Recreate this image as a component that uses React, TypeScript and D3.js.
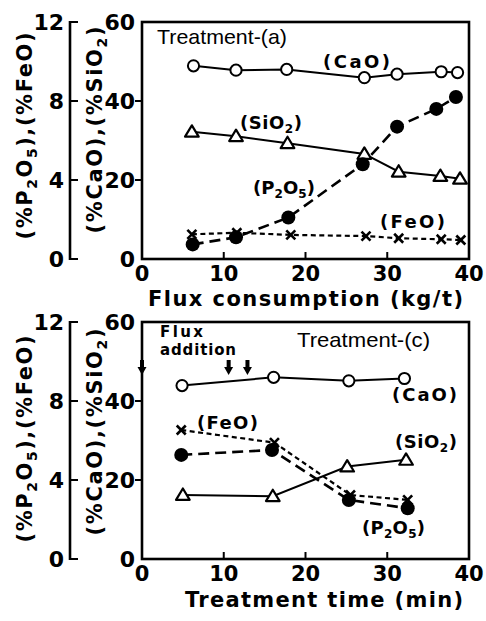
import React from 'react';
import * as d3 from 'd3';

// ---------- Data (top panel: Treatment-(a), x = flux consumption kg/t) ----------
const xTicks = [0, 10, 20, 30, 40];
const rightTicks = [0, 20, 40, 60];
const leftTicks = [0, 4, 8, 12];

const aCaOX = [6.3, 11.5, 17.7, 27.2, 31.2, 36.6, 38.6];
const aCaO = [48.9, 47.8, 48.0, 45.9, 46.8, 47.4, 47.2];
const aSiO2X = [6.1, 11.5, 17.8, 27.2, 31.4, 36.5, 38.9];
const aSiO2 = [32.2, 31.1, 29.3, 26.6, 22.1, 21.0, 20.3];
const aP2O5X = [6.2, 11.5, 17.9, 27.0, 31.2, 36.0, 38.4];
const aP2O5 = [0.74, 1.1, 2.1, 4.8, 6.7, 7.6, 8.2];
const aFeOX = [6.1, 11.6, 18.2, 27.4, 31.4, 36.6, 39.0];
const aFeO = [1.25, 1.33, 1.22, 1.16, 1.05, 1.0, 0.96];

// ---------- Data (bottom panel: Treatment-(c), x = treatment time min) ----------
const cCaOX = [4.9, 16.1, 25.3, 32.1];
const cCaO = [43.9, 46.0, 45.1, 45.7];
const cSiO2X = [5.0, 16.0, 25.1, 32.3];
const cSiO2 = [16.2, 15.9, 23.4, 25.1];
const cP2O5X = [4.8, 15.9, 25.3, 32.5];
const cP2O5 = [5.27, 5.52, 2.99, 2.57];
const cFeOX = [4.8, 16.2, 25.5, 32.5];
const cFeO = [6.53, 5.89, 3.24, 2.99];
const fluxAdditionTimes = [0, 10.6, 12.9];

const FONT = "'DejaVu Sans', sans-serif";
const ARIAL = "'Liberation Sans', Arial, sans-serif";

const x = d3.scaleLinear().domain([0, 40]).range([142, 469]);
const yR = d3.scaleLinear().domain([0, 60]).range([259, 22]);
const yL = d3.scaleLinear().domain([0, 12]).range([259, 22]);

function chem(str: string, sub: number, shift: number) {
  // digits that follow a letter become subscripts
  const parts: { t: string; s: boolean }[] = [];
  for (let i = 0; i < str.length; i++) {
    const ch = str[i];
    const isSub = /[0-9]/.test(ch) && i > 0 && /[A-Za-z]/.test(str[i - 1]);
    const last = parts[parts.length - 1];
    if (last && last.s === isSub) last.t += ch;
    else parts.push({ t: ch, s: isSub });
  }
  const out: React.ReactNode[] = [];
  let prevSub = false;
  parts.forEach((p, i) => {
    if (p.s) {
      out.push(
        <tspan key={i} dy={shift} fontSize={sub}>
          {p.t}
        </tspan>
      );
      prevSub = true;
    } else {
      out.push(
        <tspan key={i} dy={prevSub ? -shift : 0}>
          {p.t}
        </tspan>
      );
      prevSub = false;
    }
  });
  return out;
}

type Series = {
  xs: number[];
  ys: number[];
  scale: d3.ScaleLinear<number, number>;
  dash?: string;
  width: number;
  marker: 'open' | 'filled' | 'tri' | 'cross';
};

function Marker({ kind, cx, cy }: { kind: string; cx: number; cy: number }) {
  if (kind === 'open')
    return <circle cx={cx} cy={cy} r={5.6} fill="#fff" stroke="#000" strokeWidth={2} />;
  if (kind === 'filled') return <circle cx={cx} cy={cy} r={7} fill="#000" />;
  if (kind === 'tri') {
    const s = 6.5;
    const p = `${cx},${cy - s} ${cx + s * 1.05},${cy + s * 0.75} ${cx - s * 1.05},${cy + s * 0.75}`;
    return <polygon points={p} fill="#fff" stroke="#000" strokeWidth={2.2} strokeLinejoin="round" />;
  }
  const c = 4.5;
  return (
    <g stroke="#000" strokeWidth={2.6}>
      <line x1={cx - c} y1={cy - c} x2={cx + c} y2={cy + c} />
      <line x1={cx - c} y1={cy + c} x2={cx + c} y2={cy - c} />
    </g>
  );
}

function Panel({
  offsetY,
  series,
  xTitle,
  xTitleLen,
  xTitleX,
  xTitleY,
  children,
  leftLabelY,
  rightLabelY,
}: {
  offsetY: number;
  series: Series[];
  xTitle: string;
  xTitleLen: number;
  xTitleX: number;
  xTitleY: number;
  children?: React.ReactNode;
  leftLabelY: number;
  rightLabelY: number;
}) {
  const [x0, x1] = x.range();
  const line = d3.line<[number, number]>();
  return (
    <g transform={`translate(0,${offsetY})`}>
      {/* outer left axis (0-12) */}
      <line x1={70} x2={70} y1={yL(0) + 1} y2={yL(12) - 1} stroke="#000" strokeWidth={2.6} />
      {leftTicks.map((t) => (
        <g key={'l' + t}>
          <line x1={69} x2={78} y1={yL(t)} y2={yL(t)} stroke="#000" strokeWidth={2} />
          <text
            x={64}
            y={yL(t) + 8}
            textAnchor="end"
            fontFamily={FONT}
            fontWeight="bold"
            fontSize={22}
          >
            {t}
          </text>
        </g>
      ))}
      {/* plot box */}
      <rect
        x={x0}
        y={yR(60)}
        width={x1 - x0}
        height={yR(0) - yR(60)}
        fill="none"
        stroke="#000"
        strokeWidth={2.6}
      />
      {rightTicks.map((t) => (
        <g key={'r' + t}>
          {t > 0 && t < 60 && (
            <line x1={x0 - 7} x2={x0} y1={yR(t)} y2={yR(t)} stroke="#000" strokeWidth={2} />
          )}
          <text
            x={x0 - 7}
            y={yR(t) + 8}
            textAnchor="end"
            fontFamily={FONT}
            fontWeight="bold"
            fontSize={22}
          >
            {t}
          </text>
        </g>
      ))}
      {xTicks.map((t) => (
        <g key={'x' + t}>
          {t > 0 && t < 40 && (
            <line x1={x(t)} x2={x(t)} y1={yR(0)} y2={yR(0) - 7} stroke="#000" strokeWidth={2} />
          )}
          <text
            x={x(t)}
            y={281}
            textAnchor="middle"
            fontFamily={FONT}
            fontWeight="bold"
            fontSize={21}
          >
            {t}
          </text>
        </g>
      ))}
      {/* axis titles */}
      <text
        x={xTitleX}
        y={xTitleY}
        textAnchor="middle"
        fontFamily={FONT}
        fontWeight="bold"
        fontSize={21}
        textLength={xTitleLen}
        lengthAdjust="spacing"
      >
        {xTitle}
      </text>
      <text
        transform={`translate(32,${leftLabelY}) rotate(-90)`}
        textAnchor="middle"
        fontFamily={FONT}
        fontWeight="bold"
        fontSize={21}
        textLength={207}
        lengthAdjust="spacing"
      >
        {chem('(%P2O5),(%FeO)', 14, 5)}
      </text>
      <text
        transform={`translate(102,${rightLabelY}) rotate(-90)`}
        textAnchor="middle"
        fontFamily={FONT}
        fontWeight="bold"
        fontSize={21}
        textLength={207}
        lengthAdjust="spacing"
      >
        {chem('(%CaO),(%SiO2)', 14, 5)}
      </text>
      {/* series lines */}
      {series.map((s, i) => (
        <path
          key={'p' + i}
          d={line(s.xs.map((v, j) => [x(v), s.scale(s.ys[j])]))!}
          fill="none"
          stroke="#000"
          strokeWidth={s.width}
          strokeDasharray={s.dash}
        />
      ))}
      {series.map((s, i) =>
        s.xs.map((v, j) => (
          <Marker key={'m' + i + '-' + j} kind={s.marker} cx={x(v)} cy={s.scale(s.ys[j])} />
        ))
      )}
      {children}
    </g>
  );
}

function Label({
  x: lx,
  y,
  text,
  len,
  size = 18,
}: {
  x: number;
  y: number;
  text: string;
  len: number;
  size?: number;
}) {
  return (
    <text
      x={lx}
      y={y}
      fontFamily={FONT}
      fontWeight="bold"
      fontSize={size}
      textLength={len}
      lengthAdjust="spacing"
    >
      {chem(text, 12, 4)}
    </text>
  );
}

function Arrow({ cx, top }: { cx: number; top: number }) {
  return (
    <g fill="#000">
      <rect x={cx - 2} y={top} width={4} height={8} />
      <polygon points={`${cx - 4.5},${top + 7} ${cx + 4.5},${top + 7} ${cx},${top + 15}`} />
    </g>
  );
}

export default function App() {
  const topSeries: Series[] = [
    { xs: aCaOX, ys: aCaO, scale: yR, width: 2, marker: 'open' },
    { xs: aSiO2X, ys: aSiO2, scale: yR, width: 2, marker: 'tri' },
    { xs: aP2O5X, ys: aP2O5, scale: yL, width: 2.6, dash: '11 6', marker: 'filled' },
    { xs: aFeOX, ys: aFeO, scale: yL, width: 2.2, dash: '5 3.5', marker: 'cross' },
  ];
  const botSeries: Series[] = [
    { xs: cCaOX, ys: cCaO, scale: yR, width: 2, marker: 'open' },
    { xs: cSiO2X, ys: cSiO2, scale: yR, width: 2, marker: 'tri' },
    { xs: cP2O5X, ys: cP2O5, scale: yL, width: 2.6, dash: '11 6', marker: 'filled' },
    { xs: cFeOX, ys: cFeO, scale: yL, width: 2.2, dash: '5 3.5', marker: 'cross' },
  ];
  return (
    <svg
      width={486}
      height={621}
      style={{ position: 'absolute', left: 0, top: 0, background: '#fff' }}
    >
      <rect width={486} height={621} fill="#fff" />
      <Panel
        offsetY={0}
        series={topSeries}
        xTitle="Flux consumption (kg/t)"
        xTitleLen={315}
        xTitleX={305.5}
        xTitleY={306}
        leftLabelY={136}
        rightLabelY={130}
      >
        <text
          x={157}
          y={44}
          fontFamily={ARIAL}
          fontSize={21}
          textLength={130}
          lengthAdjust="spacingAndGlyphs"
        >
          Treatment-(a)
        </text>
        <Label x={323} y={68} text="(CaO)" len={67} />
        <Label x={240} y={129} text="(SiO2)" len={62} />
        <Label x={253} y={194} text="(P2O5)" len={62} />
        <Label x={380} y={228} text="(FeO)" len={65} />
      </Panel>
      <Panel
        offsetY={300}
        series={botSeries}
        xTitle="Treatment time (min)"
        xTitleLen={278}
        xTitleX={324}
        xTitleY={307}
        leftLabelY={139}
        rightLabelY={132}
      >
        <text
          x={297}
          y={47}
          fontFamily={ARIAL}
          fontSize={21}
          textLength={133}
          lengthAdjust="spacingAndGlyphs"
        >
          Treatment-(c)
        </text>
        <text x={160} y={37} fontFamily={FONT} fontWeight="bold" fontSize={15} textLength={43} lengthAdjust="spacing">
          Flux
        </text>
        <text x={160} y={55} fontFamily={FONT} fontWeight="bold" fontSize={15} textLength={76} lengthAdjust="spacing">
          addition
        </text>
        {fluxAdditionTimes.map((t, i) => (
          <Arrow key={i} cx={x(t)} top={60} />
        ))}
        <Label x={392} y={101} text="(CaO)" len={65} />
        <Label x={197} y={129} text="(FeO)" len={61} />
        <Label x={395} y={148} text="(SiO2)" len={62} />
        <Label x={362} y={234} text="(P2O5)" len={63} />
      </Panel>
    </svg>
  );
}
